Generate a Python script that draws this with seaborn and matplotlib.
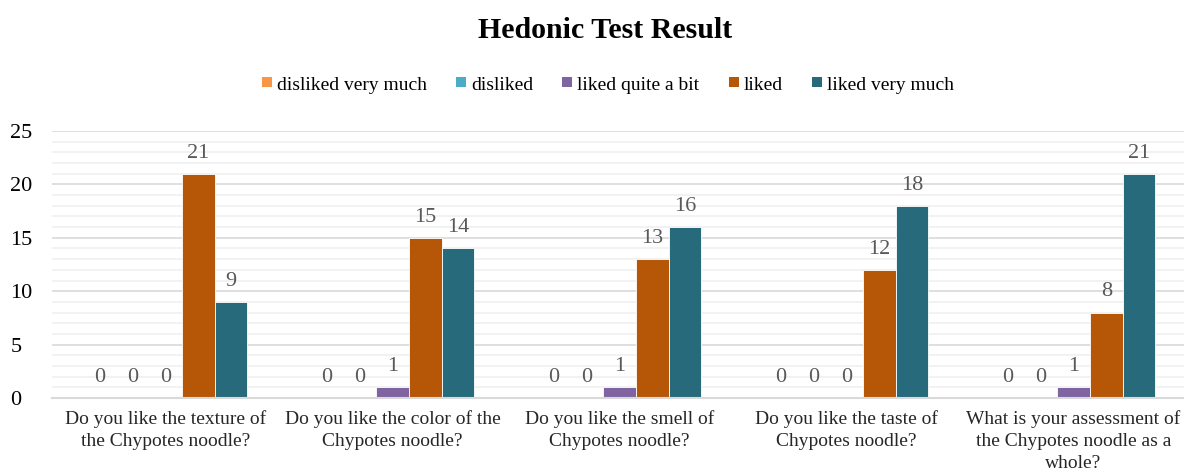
import matplotlib
matplotlib.use("Agg")
import matplotlib.pyplot as plt
import seaborn as sns
import pandas as pd
from matplotlib.ticker import MultipleLocator
from matplotlib.patches import Rectangle

questions = [
    "Do you like the texture of\nthe Chypotes noodle?",
    "Do you like the color of the\nChypotes noodle?",
    "Do you like the smell of\nChypotes noodle?",
    "Do you like the taste of\nChypotes noodle?",
    "What is your assessment of\nthe Chypotes noodle as a\nwhole?",
]
series = ["disliked very much", "disliked", "liked quite a bit", "liked", "liked very much"]
disliked_very_much = [0, 0, 0, 0, 0]
disliked = [0, 0, 0, 0, 0]
liked_quite_a_bit = [0, 1, 1, 0, 1]
liked = [21, 15, 13, 12, 8]
liked_very_much = [9, 14, 16, 18, 21]
colors = ["#F79646", "#4BACC6", "#8064A2", "#B65708", "#276A7C"]

values = [disliked_very_much, disliked, liked_quite_a_bit, liked, liked_very_much]
rows = []
for s, vals in zip(series, values):
    for q, v in zip(questions, vals):
        rows.append({"question": q, "response": s, "count": v})
df = pd.DataFrame(rows)

sns.set_theme(style="white")
FONT = ["Liberation Serif", "DejaVu Serif"]
plt.rcParams["font.family"] = FONT

W, H = 1184, 472
fig = plt.figure(figsize=(W / 100, H / 100), dpi=100)
ax = fig.add_axes([52 / W, 1 - 398 / H, (1187 - 52) / W, (398 - 131) / H])

sns.barplot(data=df, x="question", y="count", hue="response", order=questions,
            hue_order=series, palette=colors, saturation=1, width=0.72, gap=0,
            edgecolor="white", linewidth=0.6, ax=ax, legend=False)

for cont in ax.containers:
    ax.bar_label(cont, labels=[f"{int(b.get_height())}" for b in cont],
                 padding=8, fontsize=16, color="#595959")

ax.set_ylim(0, 25)
ax.set_xlim(-0.5, 4.5)
ax.yaxis.set_major_locator(MultipleLocator(5))
ax.yaxis.set_minor_locator(MultipleLocator(1))
ax.grid(axis="y", which="major", color="#D9D9D9", linewidth=1.2, zorder=0)
ax.grid(axis="y", which="minor", color="#F0F0F0", linewidth=1.2, zorder=0)
ax.set_axisbelow(True)
for sp in ["top", "right", "left"]:
    ax.spines[sp].set_visible(False)
ax.spines["bottom"].set_color("#D9D9D9")
ax.spines["bottom"].set_linewidth(1.5)
ax.set_xlabel("")
ax.set_ylabel("")
ax.tick_params(axis="y", which="both", length=0, labelsize=16, labelcolor="#000000", pad=30)
ax.tick_params(axis="x", length=0, labelsize=14, labelcolor="#262626", pad=9)
for lab in ax.get_yticklabels():
    lab.set_horizontalalignment("left")
for lab in ax.get_xticklabels():
    lab.set_linespacing(1.38)

# legend drawn as a row of squares + labels, centered at the reference position
fig.canvas.draw()
renderer = fig.canvas.get_renderer()
leg_y = 1 - 83 / H
sq = 10
gap_sq_text = 5
gap_items = 29
texts = []
widths = []
for s in series:
    t = fig.text(0, leg_y, s, fontsize=14, color="#000000", va="center_baseline", ha="left")
    texts.append(t)
    widths.append(t.get_window_extent(renderer).width)
total = sum(sq + gap_sq_text + w for w in widths) + gap_items * (len(series) - 1)
x = 608 - total / 2
for t, w, c in zip(texts, widths, colors):
    fig.patches.append(Rectangle((x / W, leg_y - (sq / 2 - 1) / H), sq / W, sq / H,
                                 transform=fig.transFigure, facecolor=c, edgecolor="none"))
    t.set_x((x + sq + gap_sq_text) / W)
    x += sq + gap_sq_text + w + gap_items

fig.text(605 / W, 1 - 30 / H, "Hedonic Test Result", ha="center", va="center",
         fontsize=21.5, fontweight="bold", color="#000000")

fig.savefig("out.png", dpi=100)
